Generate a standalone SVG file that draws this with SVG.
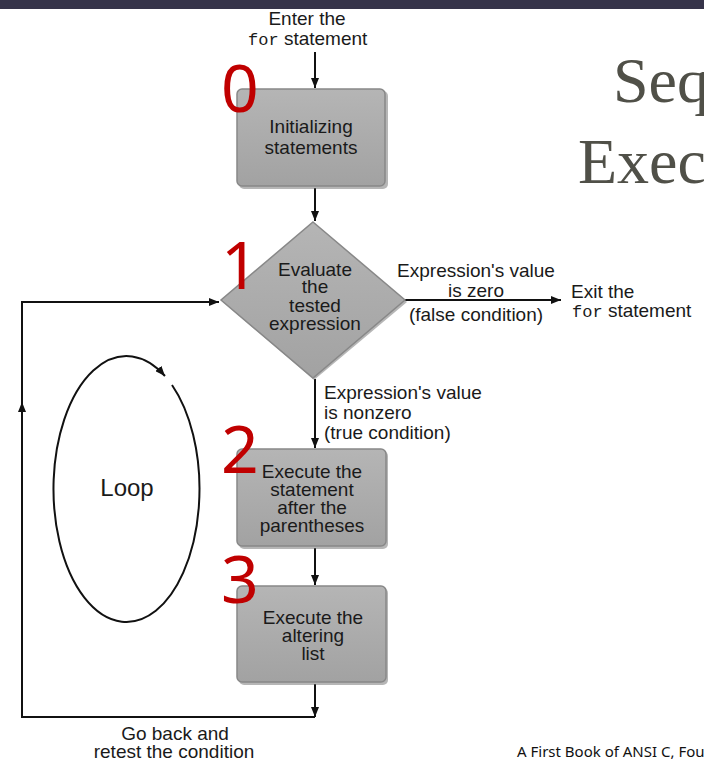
<svg xmlns="http://www.w3.org/2000/svg" width="704" height="762" viewBox="0 0 704 762">
<defs>
<linearGradient id="g" x1="0" y1="0" x2="0" y2="1">
<stop offset="0" stop-color="#b5b5b5"/>
<stop offset="1" stop-color="#a2a2a2"/>
</linearGradient>
<marker id="ah" viewBox="0 0 10 8" refX="10" refY="4" markerWidth="10" markerHeight="8" markerUnits="userSpaceOnUse" orient="auto">
<path d="M0,0 L10,4 L0,8 Z" fill="#111"/>
</marker>
</defs>
<style>
.box{fill:url(#g);stroke:#888;stroke-width:1.5}
.sh{fill:#6e6e6e;opacity:0.5}
.t{font-family:"Liberation Sans",Arial,sans-serif;font-size:19px;fill:#1a1a1a}
.c{text-anchor:middle}
.m{font-family:"Liberation Mono","Courier New",monospace;font-size:17px;fill:#1a1a1a}
.n{font-family:"Noto Sans","Open Sans",sans-serif;font-size:66px;fill:#c00000}
.ln{fill:none;stroke:#111;stroke-width:2}
.ttl{font-family:"Liberation Serif","DejaVu Serif",serif;font-size:64px;fill:#505048}
</style>
<rect x="0" y="0" width="704" height="9" fill="#36344a"/>
<text class="ttl" x="613" y="102">Seq</text>
<text class="ttl" x="578" y="183">Exec</text>

<g id="connectors">
<line class="ln" x1="315" y1="52" x2="315" y2="88" marker-end="url(#ah)"/>
<line class="ln" x1="315" y1="188" x2="315" y2="221" marker-end="url(#ah)"/>
<line class="ln" x1="405" y1="300" x2="561" y2="300" marker-end="url(#ah)"/>
<line class="ln" x1="315" y1="379" x2="315" y2="448" marker-end="url(#ah)"/>
<line class="ln" x1="315" y1="548" x2="315" y2="585" marker-end="url(#ah)"/>
<line class="ln" x1="315" y1="684" x2="315" y2="717" marker-end="url(#ah)"/>
<polyline class="ln" points="315,717 22,717 22,302 219,302" marker-end="url(#ah)"/>
<path d="M22,402 L26,412 L18,412 Z" fill="#111"/>
<path class="ln" stroke-width="3" d="M172,385 A73,133 0 1 1 165,376" marker-end="url(#ah)"/>
</g>

<g id="enter">
<text class="t c" x="307" y="25">Enter the</text>
<text x="248" y="45"><tspan class="m">for</tspan><tspan class="t"> statement</tspan></text>
</g>

<g id="init">
<rect class="sh" x="239" y="91" width="149" height="98" rx="5"/>
<rect class="box" x="237" y="89" width="148" height="97" rx="5"/>
<text class="t c" x="311" y="133">Initializing</text>
<text class="t c" x="311" y="154">statements</text>
</g>

<g id="evaluate">
<polygon class="sh" points="314,224 407,302 314,380 223,302"/>
<polygon class="box" points="313,222 405,300 313,378 221,300"/>
<text class="t c" x="315" y="276">Evaluate</text>
<text class="t c" x="315" y="293">the</text>
<text class="t c" x="315" y="312">tested</text>
<text class="t c" x="315" y="330">expression</text>
</g>

<g id="false-label">
<text class="t c" x="476" y="277">Expression's value</text>
<text class="t c" x="476" y="297">is zero</text>
<text class="t c" x="476" y="321">(false condition)</text>
</g>

<g id="exit">
<text class="t" x="571" y="298">Exit the</text>
<text x="572" y="317"><tspan class="m">for</tspan><tspan class="t"> statement</tspan></text>
</g>

<g id="true-label">
<text class="t" x="324" y="399">Expression's value</text>
<text class="t" x="324" y="419">is nonzero</text>
<text class="t" x="324" y="439">(true condition)</text>
</g>

<g id="body">
<rect class="sh" x="239" y="451" width="149" height="98" rx="5"/>
<rect class="box" x="237" y="449" width="149" height="97" rx="5"/>
<text class="t c" x="312" y="478">Execute the</text>
<text class="t c" x="312" y="496">statement</text>
<text class="t c" x="312" y="514">after the</text>
<text class="t c" x="312" y="532">parentheses</text>
</g>

<g id="alter">
<rect class="sh" x="239" y="588" width="149" height="97" rx="5"/>
<rect class="box" x="237" y="586" width="149" height="96" rx="5"/>
<text class="t c" x="313" y="624">Execute the</text>
<text class="t c" x="313" y="642">altering</text>
<text class="t c" x="313" y="660">list</text>
</g>

<g id="loop">
<text class="t c" x="127" y="496" style="font-size:24px">Loop</text>
</g>

<g id="goback">
<text class="t c" x="175" y="740">Go back and</text>
<text class="t c" x="174" y="758">retest the condition</text>
</g>

<g id="numbers">
<text class="n" x="221" y="112">0</text>
<text class="n" x="221" y="289">1</text>
<text class="n" x="221" y="473">2</text>
<text class="n" x="221" y="603">3</text>
</g>

<text x="517" y="757" style="font-family:'Noto Sans','Open Sans',sans-serif;font-size:15px;fill:#111">A First Book of ANSI C, Fou</text>
</svg>
